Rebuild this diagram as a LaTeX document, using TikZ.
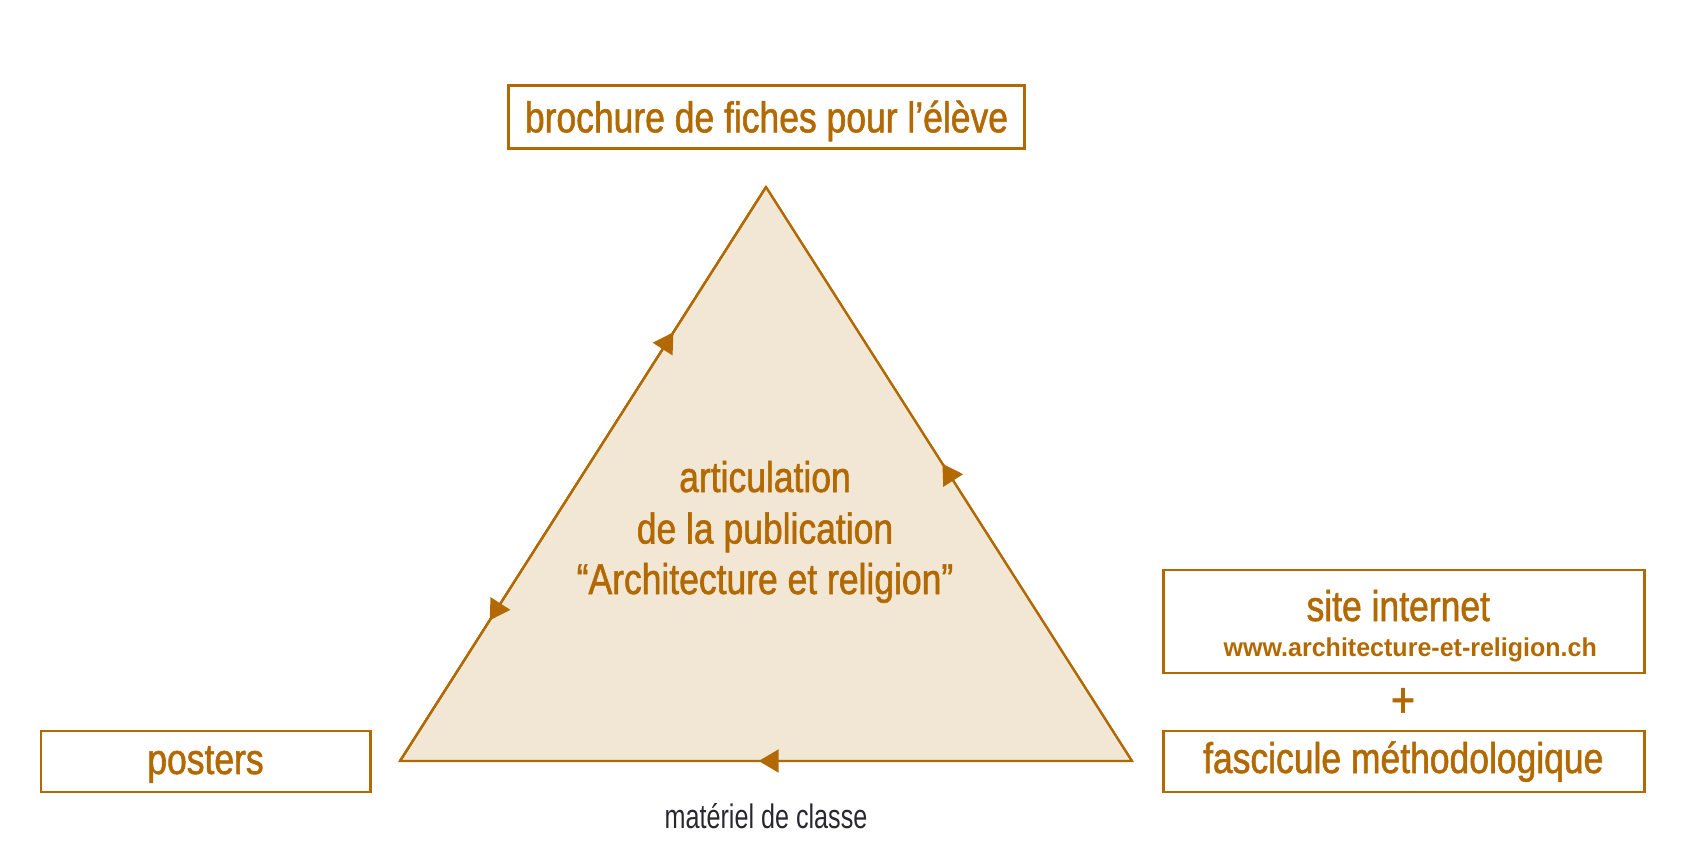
\documentclass[tikz,border=0pt]{standalone}
\usepackage{fontspec}
\setmainfont{Liberation Sans}
\newfontfamily\condfont{Liberation Sans}[FakeStretch=0.825,FakeBold=1.3]
\newfontfamily\thinfont{Liberation Sans}[FakeStretch=0.74]
\newfontfamily\urlfont{Liberation Sans}[FakeStretch=0.97]
\usetikzlibrary{arrows.meta,decorations.markings}
\definecolor{brn}{RGB}{178,106,0}
\definecolor{beige}{RGB}{242,230,213}
\definecolor{gry}{RGB}{40,40,48}
\begin{document}
\begin{tikzpicture}[x=0.5pt,y=-0.5pt,
  lbl/.style={text=brn, font=\condfont\fontsize{21.5pt}{25pt}\selectfont, inner sep=0pt, anchor=base},
  boxst/.style={draw=brn, line width=1.2pt, fill=white, inner sep=0pt},
  tri/.style={draw=brn, fill=beige, line width=1.1pt, line join=miter},
  midarrow/.style={draw=brn, line width=1.1pt, postaction={decorate},
    decoration={markings, mark=at position #1 with {\arrow[brn]{Triangle[length=10pt,width=11.5pt]}}}}]
\useasboundingbox (0,0) rectangle (1704,850);
% triangle
\coordinate (A) at (766,187);
\coordinate (L) at (400,761);
\coordinate (R) at (1132,761);
\draw[tri] (A) -- (R) -- (L) -- cycle;
\draw[midarrow=0.747] (L) -- (A);
\draw[midarrow=0.755] (A) -- (L);
\draw[midarrow=0.518] (R) -- (A);
\draw[midarrow=0.51] (R) -- (L);
% boxes
\node[boxst, minimum width=257.85pt, minimum height=31.5pt] (brochure) at (766.5,117) {};
\node[boxst, minimum width=164.8pt, minimum height=30.5pt] (posters) at (205.5,761.2) {};
\node[boxst, minimum width=240.5pt, minimum height=51.35pt] (site) at (1403.8,621.35) {};
\node[boxst, minimum width=240.5pt, minimum height=30.35pt] (fasc) at (1403.8,761.35) {};
% texts
\node[lbl] (brochuretxt) at (766.5,132.3) {brochure de fiches pour l’élève};
\node[lbl] (art1) at (765,492) {articulation};
\node[lbl] (art2) at (765,543.5) {de la publication};
\node[lbl] (art3) at (765,594) {“Architecture et religion”};
\node[lbl] (posterstxt) at (205.5,774) {posters};
\node[lbl] (sitetxt) at (1398.3,621) {site internet};
\node[text=brn, font=\urlfont\bfseries\fontsize{12.9pt}{15pt}\selectfont, inner sep=0pt, anchor=base] (url) at (1410.3,656.7) {www.architecture-et-religion.ch};
\node[lbl, font=\condfont\fontsize{25pt}{28pt}\selectfont] (plus) at (1403,717) {+};
\node[lbl] (fasctxt) at (1403.3,773) {fascicule méthodologique};
\node[text=gry, font=\thinfont\fontsize{17pt}{20pt}\selectfont, inner sep=0pt, anchor=base] (materiel) at (766,828) {matériel de classe};
\end{tikzpicture}
\end{document}
